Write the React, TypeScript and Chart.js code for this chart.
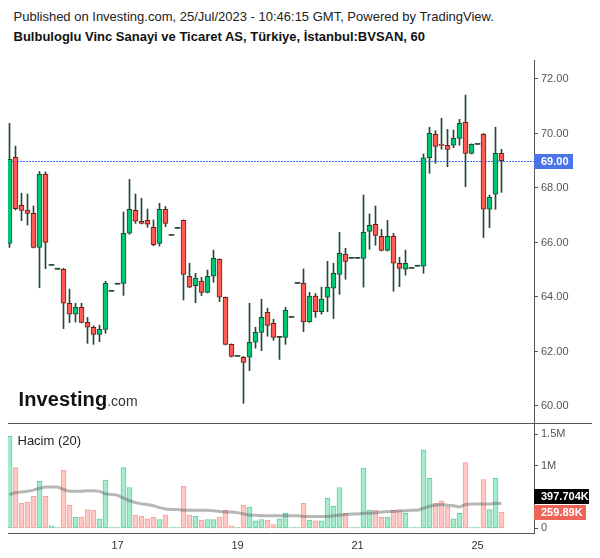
import React, { useEffect, useRef } from "react";
import { Chart, registerables } from "chart.js";

Chart.register(...registerables);

// ---------- data (hourly candles, BVSAN) ----------
const opens = [
  65.97, 69.13, 67.36, 67.19, 67.07, 65.82, 68.51, 65.16, 65.02, 65.02,
  63.77, 63.37, 63.62, 63.07, 62.89, 62.63, 62.81, 64.21, 64.47, 64.5,
  66.34, 67.18, 66.78, 66.81, 66.56, 65.97, 67.22, 66.26, 66.52, 66.81,
  64.76, 64.42, 64.58, 64.17, 64.76, 65.38, 63.99, 62.26, 61.82, 61.79,
  61.79, 62.34, 62.7, 63.44, 63.03, 62.52, 62.52, 63.25, 64.5, 64.5,
  63.09, 64.03, 63.46, 63.99, 64.32, 64.83, 65.57, 65.42, 65.42, 65.42,
  66.41, 66.67, 66.23, 65.71, 66.23, 65.24, 65.02, 65.05, 65.13, 65.13,
  69.11, 69.97, 69.6, 69.57, 69.57, 69.82, 70.41, 69.27, 69.6, 69.97,
  67.22, 67.77, 69.27,
];
const highs = [
  70.37, 69.54, 67.81, 67.78, 67.34, 68.61, 68.59, 65.16, 65.02, 65.05,
  64.29, 63.77, 63.77, 63.25, 62.94, 62.97, 64.58, 64.21, 64.47, 67.12,
  68.32, 67.78, 67.62, 67.23, 66.83, 67.44, 67.32, 66.26, 66.52, 66.83,
  65.24, 64.87, 64.72, 64.99, 65.72, 65.4, 64.0, 62.28, 61.82, 61.82,
  63.77, 62.89, 63.92, 63.59, 63.18, 62.56, 63.62, 63.25, 64.5, 65.03,
  64.17, 64.13, 64.36, 65.31, 65.24, 66.37, 65.79, 65.42, 65.42, 67.74,
  67.05, 67.34, 66.48, 66.81, 66.34, 65.46, 65.72, 65.05, 65.13, 69.25,
  70.23, 70.1, 70.56, 70.15, 70.13, 70.52, 71.41, 69.62, 69.6, 70.0,
  67.74, 70.23, 69.42,
];
const lows = [
  65.82, 67.19, 66.8, 66.64, 65.8, 64.34, 65.04, 65.16, 65.02, 62.84,
  63.06, 63.08, 63.05, 62.3, 62.26, 62.36, 62.67, 64.21, 64.47, 64.06,
  66.3, 66.7, 66.68, 66.56, 65.88, 65.87, 66.58, 66.26, 66.52, 63.89,
  64.34, 63.79, 64.05, 64.15, 64.54, 63.83, 62.24, 61.8, 61.82, 60.1,
  61.3, 62.12, 62.03, 62.56, 62.41, 61.71, 62.26, 63.25, 64.5, 62.73,
  63.07, 63.25, 63.37, 63.46, 63.21, 64.1, 64.65, 65.42, 65.42, 64.36,
  65.75, 65.9, 65.69, 65.69, 64.21, 64.38, 64.8, 65.05, 65.13, 64.87,
  68.54, 68.91, 69.42, 68.78, 69.48, 69.57, 68.05, 69.25, 69.6, 66.18,
  66.54, 67.22, 67.84,
];
const closes = [
  69.05, 67.24, 67.18, 67.07, 65.82, 68.51, 66.0, 65.16, 65.02, 63.77,
  63.37, 63.62, 63.07, 62.89, 62.63, 62.81, 64.5, 64.21, 64.47, 66.34,
  67.22, 66.78, 66.7, 66.67, 65.92, 67.22, 66.7, 66.26, 66.52, 64.83,
  64.36, 64.69, 64.17, 64.76, 65.42, 63.99, 62.26, 61.82, 61.82, 61.6,
  62.34, 62.7, 63.25, 62.96, 62.52, 62.52, 63.51, 63.25, 64.5, 63.09,
  64.03, 63.46, 63.92, 64.36, 64.87, 65.6, 65.31, 65.42, 65.42, 66.37,
  66.63, 66.26, 65.71, 66.23, 65.24, 65.05, 65.24, 65.05, 65.13, 69.11,
  70.01, 69.53, 69.56, 69.42, 69.82, 70.37, 69.27, 69.6, 69.6, 67.22,
  67.66, 69.27, 69.0,
];
const volumes = [
  1470000, 970000, 400000, 420000, 510000, 750000, 510000, 40000, 5000, 930000,
  370000, 180000, 180000, 300000, 290000, 150000, 770000, 20000, 5000, 970000,
  650000, 210000, 190000, 150000, 180000, 140000, 210000, 20000, 5000, 670000,
  210000, 190000, 130000, 140000, 140000, 180000, 290000, 40000, 5000, 370000,
  340000, 120000, 140000, 130000, 60000, 150000, 240000, 5000, 5000, 400000,
  130000, 120000, 120000, 480000, 350000, 650000, 240000, 5000, 5000, 960000,
  290000, 290000, 180000, 180000, 290000, 280000, 240000, 5000, 5000, 1250000,
  800000, 400000, 440000, 340000, 150000, 240000, 1050000, 20000, 5000, 780000,
  300000, 800000, 259890,
];
const volumeMA = [
  540000, 570000, 580000, 590000, 610000, 640000, 660000, 660000, 660000, 620000,
  590000, 590000, 590000, 600000, 600000, 590000, 550000, 540000, 530000, 480000,
  440000, 410000, 390000, 380000, 360000, 330000, 310000, 300000, 300000, 290000,
  290000, 290000, 290000, 290000, 280000, 270000, 260000, 260000, 250000, 230000,
  210000, 210000, 200000, 200000, 200000, 200000, 200000, 200000, 200000, 190000,
  190000, 190000, 190000, 190000, 200000, 210000, 220000, 230000, 230000, 240000,
  240000, 250000, 260000, 270000, 270000, 280000, 280000, 290000, 290000, 320000,
  350000, 370000, 380000, 370000, 360000, 340000, 380000, 390000, 390000, 390000,
  390000, 400000, 397704,
];
const dayTickIndex = [18, 38, 58, 78];
const dayTickLabels = ["17", "19", "21", "25"];
const priceTicks = [60, 62, 64, 66, 68, 70, 72];
const volumeTicks = [0, 1000000, 1500000];
const lastPrice = 69.0;

// ---------- styling ----------
const FONT = "'Liberation Sans', Arial, Helvetica, sans-serif";
const UP = "#00c774";
const DOWN = "#ff5b52";
const UP_BORDER = "#1d4c34";
const DOWN_BORDER = "#6e1c1c";
const WICK = "#1f4b36";
const VOL_UP = "#a6ebcc";
const VOL_DOWN = "#ffc8c5";
const VOL_UP_B = "#58d69e";
const VOL_DOWN_B = "#f59f99";
const AXIS = "#555555";

const X_MIN = -0.25;
const X_MAX = X_MIN + 526 / 6;
const P_MAX = 72 + 19 / 27.25;
const P_MIN = 72 - 344 / 27.25;
const V_MAX = 1682000;
const V_MIN = -75000;
const AXIS_W = 58;

function fmtK(v: number) {
  let s = (v / 1000).toFixed(3);
  s = s.replace(/0+$/, "").replace(/\.$/, "");
  return s + "K";
}

const noPad = (s: any) => {
  s.paddingTop = 0;
  s.paddingBottom = 0;
};

export default function App() {
  const priceRef = useRef<HTMLCanvasElement>(null);
  const volRef = useRef<HTMLCanvasElement>(null);

  useEffect(() => {
    const idx = closes.map((_, i) => i);
    const up = idx.map((i) => closes[i] >= opens[i]);
    const flat = idx.map((i) => closes[i] === opens[i]);

    const priceOverlay = {
      id: "priceOverlay",
      beforeDatasetsDraw(chart: any) {
        const { ctx, chartArea, scales } = chart;
        const y = Math.round(scales.y.getPixelForValue(lastPrice)) + 0.5;
        ctx.save();
        ctx.strokeStyle = "#3a6cf0";
        ctx.lineWidth = 1;
        ctx.setLineDash([2, 1]);
        ctx.beginPath();
        ctx.moveTo(chartArea.left, y);
        ctx.lineTo(chartArea.right, y);
        ctx.stroke();
        ctx.restore();
      },
      afterDraw(chart: any) {
        const { ctx, chartArea, scales } = chart;
        const y = Math.round(scales.y.getPixelForValue(lastPrice));
        ctx.save();
        ctx.fillStyle = "#4a74e8";
        ctx.fillRect(chartArea.right, y - 7, 39, 15);
        ctx.fillStyle = "#ffffff";
        ctx.font = `bold 11px ${FONT}`;
        ctx.textBaseline = "middle";
        ctx.textAlign = "left";
        ctx.fillText(lastPrice.toFixed(2), chartArea.right + 7, y + 1);
        ctx.restore();
      },
    };

    const priceChart = new Chart(priceRef.current as HTMLCanvasElement, {
      type: "bar",
      data: {
        datasets: [
          {
            label: "body",
            data: idx.map((i) => ({ x: i, y: [opens[i], closes[i]] })) as any,
            backgroundColor: idx.map((i) => (flat[i] ? WICK : up[i] ? UP : DOWN)),
            borderColor: idx.map((i) => (up[i] ? UP_BORDER : DOWN_BORDER)),
            borderWidth: idx.map((i) => (flat[i] ? 0 : 1)) as any,
            borderSkipped: false,
            barThickness: 5,
            minBarLength: 1,
            grouped: false,
          } as any,
          {
            label: "wick",
            data: idx.map((i) => ({ x: i, y: [lows[i], highs[i]] })) as any,
            backgroundColor: WICK,
            borderWidth: 0,
            barThickness: 1,
            grouped: false,
          } as any,
        ],
      },
      options: {
        animation: false,
        responsive: false,
        maintainAspectRatio: false,
        events: [],
        layout: { padding: 0 },
        plugins: { legend: { display: false }, tooltip: { enabled: false } },
        scales: {
          x: {
            type: "linear",
            min: X_MIN,
            max: X_MAX,
            offset: false,
            display: false,
          },
          y: {
            position: "right",
            min: P_MIN,
            max: P_MAX,
            afterFit: (s: any) => {
              s.width = AXIS_W;
              noPad(s);
            },
            afterBuildTicks: (s: any) => {
              s.ticks = priceTicks.map((v) => ({ value: v }));
            },
            ticks: {
              callback: (v: any) => Number(v).toFixed(2),
              color: AXIS,
              font: { family: FONT, size: 11 },
              padding: 3,
            },
            grid: { drawOnChartArea: false, drawTicks: true, tickLength: 4, color: AXIS },
            border: { display: true, color: AXIS },
          } as any,
        },
      } as any,
      plugins: [priceOverlay],
    });

    const volOverlay = {
      id: "volOverlay",
      afterDraw(chart: any) {
        const { ctx, chartArea, scales } = chart;
        ctx.save();
        ctx.strokeStyle = AXIS;
        ctx.lineWidth = 1;
        ctx.beginPath();
        ctx.moveTo(0, 0.5);
        ctx.lineTo(chart.width, 0.5);
        ctx.stroke();

        const lastV = volumes[volumes.length - 1];
        const lastMA = volumeMA[volumeMA.length - 1];
        const h = 15;
        const redY = Math.round(scales.y.getPixelForValue(lastV) - h / 2);
        let maY = Math.round(scales.y.getPixelForValue(lastMA) - h / 2);
        if (maY > redY - h - 1) maY = redY - h - 1;
        ctx.font = `bold 11px ${FONT}`;
        ctx.textBaseline = "middle";
        ctx.textAlign = "left";
        ctx.fillStyle = "#000000";
        ctx.fillRect(chartArea.right, maY, 55, h);
        ctx.fillStyle = "#ffffff";
        ctx.fillText(fmtK(lastMA), chartArea.right + 7, maY + 8);
        ctx.fillStyle = "#ef6459";
        ctx.fillRect(chartArea.right, redY, 52, h);
        ctx.fillStyle = "#ffffff";
        ctx.fillText(fmtK(lastV), chartArea.right + 7, redY + 8);
        ctx.restore();
      },
    };

    const volChart = new Chart(volRef.current as HTMLCanvasElement, {
      type: "bar",
      data: {
        datasets: [
          {
            type: "line",
            label: "ma",
            data: idx.map((i) => ({ x: i, y: volumeMA[i] })) as any,
            borderColor: "rgba(95,95,95,0.45)",
            borderWidth: 3,
            pointRadius: 0,
            tension: 0,
          } as any,
          {
            label: "vol",
            data: idx.map((i) => ({ x: i, y: volumes[i] })) as any,
            backgroundColor: idx.map((i) => (up[i] ? VOL_UP : VOL_DOWN)),
            borderColor: idx.map((i) => (up[i] ? VOL_UP_B : VOL_DOWN_B)),
            borderWidth: 1,
            borderSkipped: false,
            barThickness: 5,
            minBarLength: 1,
            grouped: false,
          } as any,
        ],
      },
      options: {
        animation: false,
        responsive: false,
        maintainAspectRatio: false,
        events: [],
        layout: { padding: 0 },
        plugins: { legend: { display: false }, tooltip: { enabled: false } },
        scales: {
          x: {
            type: "linear",
            min: X_MIN,
            max: X_MAX,
            offset: false,
            afterFit: (s: any) => {
              s.height = 17;
              s.paddingLeft = 0;
              s.paddingRight = 0;
            },
            afterBuildTicks: (s: any) => {
              s.ticks = dayTickIndex.map((v) => ({ value: v }));
            },
            ticks: {
              autoSkip: false,
              maxRotation: 0,
              callback: (_v: any, i: number) => dayTickLabels[i],
              color: "#333333",
              font: { family: FONT, size: 11 },
              padding: 6,
            },
            grid: { display: false, drawTicks: false },
            border: { display: true, color: AXIS },
          } as any,
          y: {
            position: "right",
            min: V_MIN,
            max: V_MAX,
            afterFit: (s: any) => {
              s.width = AXIS_W;
              noPad(s);
            },
            afterBuildTicks: (s: any) => {
              s.ticks = volumeTicks.map((v) => ({ value: v }));
            },
            ticks: {
              callback: (v: any) => (Number(v) === 0 ? "0" : Number(v) / 1000000 + "M"),
              color: AXIS,
              font: { family: FONT, size: 11 },
              padding: 3,
            },
            grid: { drawOnChartArea: false, drawTicks: true, tickLength: 4, color: AXIS },
            border: { display: true, color: AXIS },
          } as any,
        },
      } as any,
      plugins: [volOverlay],
    });

    return () => {
      priceChart.destroy();
      volChart.destroy();
    };
  }, []);

  const abs = (top: number, left: number): React.CSSProperties => ({
    position: "absolute",
    top,
    left,
    whiteSpace: "nowrap",
  });

  return (
    <div
      style={{
        position: "relative",
        width: 584,
        height: 542,
        overflow: "hidden",
        fontFamily: FONT,
        background: "#ffffff",
      }}
    >
      <div style={{ ...abs(1.3, 5.5), fontSize: 13, lineHeight: "15px", color: "#222" }}>
        Published on Investing.com, 25/Jul/2023 - 10:46:15 GMT, Powered by TradingView.
      </div>
      <div style={{ ...abs(20.7, 5.5), fontSize: 13, lineHeight: "15px", fontWeight: "bold", color: "#111" }}>
        Bulbuloglu Vinc Sanayi ve Ticaret AS, Türkiye, İstanbul:BVSAN, 60
      </div>
      <canvas ref={priceRef} width={584} height={363} style={{ position: "absolute", top: 52, left: 0 }} />
      <canvas ref={volRef} width={584} height={127} style={{ position: "absolute", top: 415, left: 0 }} />
      <div style={{ ...abs(381, 10.5), lineHeight: "20px", color: "#111" }}>
        <span style={{ fontSize: 20, fontWeight: "bold", letterSpacing: "0.1px" }}>Investing</span>
        <span style={{ fontSize: 14, color: "#333" }}>.com</span>
      </div>
      <div style={{ ...abs(424.5, 9.5), fontSize: 13, lineHeight: "15px", color: "#222" }}>Hacim (20)</div>
    </div>
  );
}
